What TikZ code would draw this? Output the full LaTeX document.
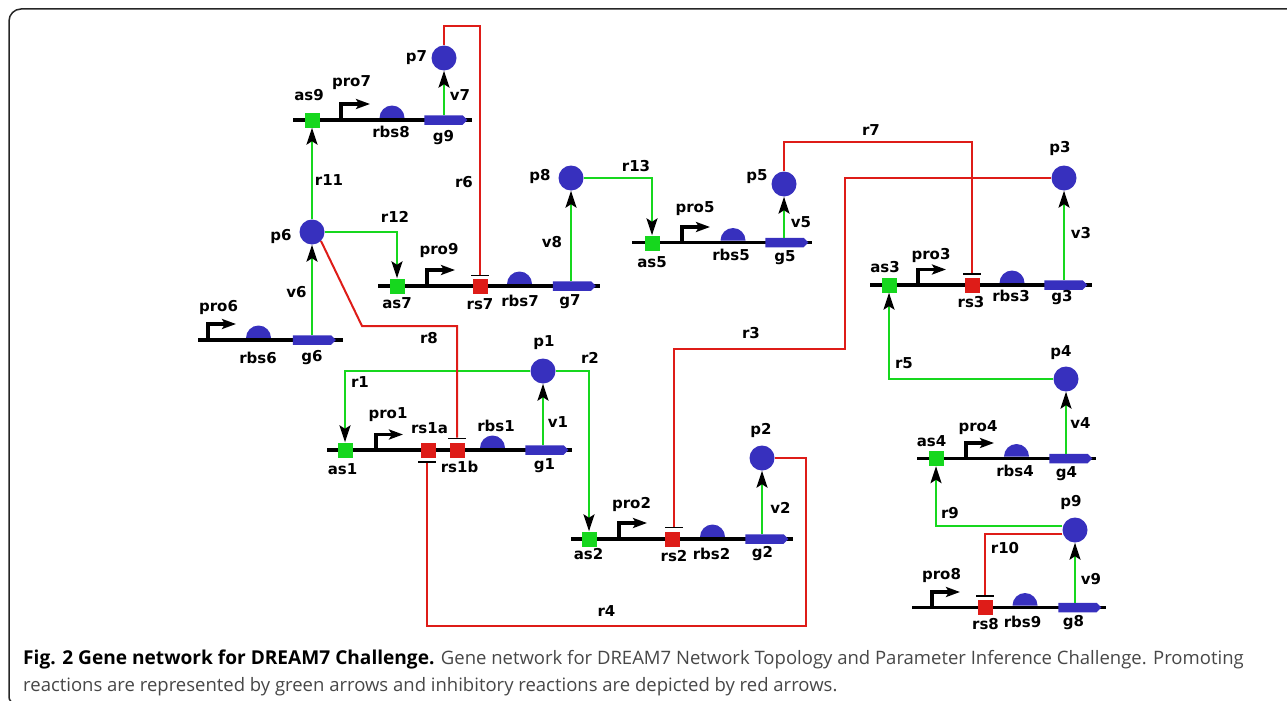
\documentclass[tikz,border=0pt]{standalone}
\usepackage{xcolor}
\usepackage{fontspec}
\setmainfont{DejaVu Sans}
\newfontfamily\capfont{Open Sans}
\usetikzlibrary{arrows.meta,shapes.geometric,shapes.symbols}
\definecolor{protblue}{HTML}{3730BE}
\definecolor{actgreen}{HTML}{16D71E}
\definecolor{repred}{HTML}{DE1C18}
\begin{document}
\begin{tikzpicture}[x=1pt,y=-1pt,
 dna/.style={draw=black,line width=3.3pt},
 prom/.style={draw=black,line width=3.6pt,-{Stealth[length=14pt,width=10pt,inset=3pt]}},
 prot/.style={circle,fill=protblue,inner sep=0pt,minimum size=25pt},
 site/.style={rectangle,inner sep=0pt,minimum size=15pt},
 asite/.style={site,fill=actgreen},
 rsite/.style={site,fill=repred},
 rbsite/.style={semicircle,fill=protblue,inner sep=0pt,minimum width=25pt,minimum height=12.5pt,anchor=chord center,yshift=1.8pt},
 gene/.style={signal,signal to=east,fill=protblue,inner sep=0pt,minimum width=43pt,minimum height=9.5pt},
 tbar/.style={rectangle,fill=black,inner sep=0pt,minimum width=18pt,minimum height=1.6pt},
 act/.style={draw=actgreen,line width=2pt,-{Stealth[black,length=17pt,width=11pt,inset=3.5pt]}},
 vel/.style={act},
 rep/.style={draw=repred,line width=2pt},
 lab/.style={font=\fontsize{15pt}{16pt}\selectfont\bfseries,inner sep=0pt}]
\useasboundingbox (0,0) rectangle (1287,701);
\draw[black!85,line width=1.5pt,rounded corners=12pt] (1300,9)--(9,9)[rounded corners=6pt]--(9,703)--(20,703);
% unit g9
\node[rbsite] (rbs8) at (392,120) {};
\coordinate (b9a) at (293,120); \coordinate (b9b) at (472,120);
\draw[dna] (b9a)--(b9b);
\coordinate (pr7) at (341,120); \coordinate (pr7t) at (370,104);
\draw[prom] (pr7)|-(pr7t);
\node[asite] (as9) at (312,120) {};
\node[gene] (g9) at (443.5,120) {};
\node[prot] (p7) at (444,58) {};
% unit g7
\node[rbsite] (rbs7) at (519.5,286) {};
\coordinate (b7a) at (378,286); \coordinate (b7b) at (600,286);
\draw[dna] (b7a)--(b7b);
\coordinate (pr9) at (427,286); \coordinate (pr9t) at (455,270);
\draw[prom] (pr9)|-(pr9t);
\node[asite] (as7) at (397,286) {};
\node[rsite] (rs7) at (480,286) {};
\node[tbar] (rs7b) at (480,275.5) {};
\node[gene] (g7) at (572,286) {};
\node[prot] (p8) at (571,178) {};
% unit g6
\node[rbsite] (rbs6) at (258.5,340) {};
\coordinate (b6a) at (198,340); \coordinate (b6b) at (343,340);
\draw[dna] (b6a)--(b6b);
\coordinate (pr6) at (208,340); \coordinate (pr6t) at (236,324);
\draw[prom] (pr6)|-(pr6t);
\node[gene] (g6) at (312,340) {};
\node[prot] (p6) at (312,232) {};
% unit g1
\node[rbsite] (rbs1) at (492.5,450) {};
\coordinate (b1a) at (327,450); \coordinate (b1b) at (572,450);
\draw[dna] (b1a)--(b1b);
\coordinate (pr1) at (376,450); \coordinate (pr1t) at (403,434.5);
\draw[prom] (pr1)|-(pr1t);
\node[asite] (as1) at (345,450) {};
\node[rsite] (rs1a) at (428,450) {};
\node[tbar] (rs1ab) at (427,462) {};
\node[rsite] (rs1b) at (457.5,450) {};
\node[tbar] (rs1bb) at (457,438.5) {};
\node[gene] (g1) at (544.5,450) {};
\node[prot] (p1) at (543,371) {};
% unit g2
\node[rbsite] (rbs2) at (712.5,539) {};
\coordinate (b2a) at (571,539); \coordinate (b2b) at (793,539);
\draw[dna] (b2a)--(b2b);
\coordinate (pr2) at (619,539); \coordinate (pr2t) at (647,523);
\draw[prom] (pr2)|-(pr2t);
\node[asite] (as2) at (589,539) {};
\node[rsite] (rs2) at (672.5,539) {};
\node[tbar] (rs2b) at (674,527.5) {};
\node[gene] (g2) at (764.5,539) {};
\node[prot] (p2) at (762,458) {};
% unit g5
\node[rbsite] (rbs5) at (733,242.5) {};
\coordinate (b5a) at (632,242.5); \coordinate (b5b) at (812,242.5);
\draw[dna] (b5a)--(b5b);
\coordinate (pr5) at (682,242.5); \coordinate (pr5t) at (710,227);
\draw[prom] (pr5)|-(pr5t);
\node[asite] (as5) at (652,243) {};
\node[gene] (g5) at (784.5,242.5) {};
\node[prot] (p5) at (784,184) {};
% unit g3
\node[rbsite] (rbs3) at (1012,285) {};
\coordinate (b3a) at (870,285); \coordinate (b3b) at (1092,285);
\draw[dna] (b3a)--(b3b);
\coordinate (pr3) at (918,285); \coordinate (pr3t) at (946,269.5);
\draw[prom] (pr3)|-(pr3t);
\node[asite] (as3) at (889,285) {};
\node[rsite] (rs3) at (972,285) {};
\node[tbar] (rs3b) at (972,274) {};
\node[gene] (g3) at (1063.5,285) {};
\node[prot] (p3) at (1064,178) {};
% unit g4
\node[rbsite] (rbs4) at (1016.5,458.5) {};
\coordinate (b4a) at (917,458.5); \coordinate (b4b) at (1096,458.5);
\draw[dna] (b4a)--(b4b);
\coordinate (pr4) at (966,458.5); \coordinate (pr4t) at (994,443);
\draw[prom] (pr4)|-(pr4t);
\node[asite] (as4) at (936,458.5) {};
\node[gene] (g4) at (1068.5,458.5) {};
\node[prot] (p4) at (1066,379) {};
% unit g8
\node[rbsite] (rbs9) at (1025,607.5) {};
\coordinate (b8a) at (912,607.5); \coordinate (b8b) at (1106,607.5);
\draw[dna] (b8a)--(b8b);
\coordinate (pr8) at (932,607.5); \coordinate (pr8t) at (960,592);
\draw[prom] (pr8)|-(pr8t);
\node[rsite] (rs8) at (985.5,607.5) {};
\node[tbar] (rs8b) at (985,596) {};
\node[gene] (g8) at (1077.5,607.5) {};
\node[prot] (p9) at (1075,530) {};
% translation
\draw[vel] (g9.north-|p7.south)--(p7.south);
\draw[vel] (g7.north-|p8.south)--(p8.south);
\draw[vel] (g6.north)--(p6.south);
\draw[vel] (g1.north-|p1.south)--(p1.south);
\draw[vel] (g2.north-|p2.south)--(p2.south);
\draw[vel] (g5.north-|p5.south)--(p5.south);
\draw[vel] (g3.north-|p3.south)--(p3.south);
\draw[vel] (g4.north-|p4.south)--(p4.south);
\draw[vel] (g8.north-|p9.south)--(p9.south);
% promoting reactions
\coordinate (r9c) at (936,526);
\draw[act] (p1.west)-|(as1.north);
\draw[act] (p1.east)-|(as2.north);
\draw[act] (p6.north)--(as9.south);
\draw[act] (p6.east)-|(as7.north);
\draw[act] (p8.east)-|(as5.north);
\draw[act] (p4.west)-|(as3.south);
\draw[act] (r9c-|p9.west)-|(as4.south);
% inhibitory reactions
\coordinate (r6c) at (480,26); \coordinate (r7c) at (972,142); \coordinate (r10c) at (985,534);
\coordinate (r8c) at (362,326); \coordinate (r3c) at (845,349); \coordinate (r4c) at (806,626);
\draw[rep] (p7.north)|-(r6c)--(rs7b.north);
\draw[rep] (p5.north)|-(r7c)--(rs3b.north);
\draw[rep] (p6.-45)--(r8c)-|(rs1bb.north);
\draw[rep] (rs2b.north)|-(r3c)|-(p3.west);
\draw[rep] (p2.east)-|(r4c)-|(rs1ab.south);
\draw[rep] (r10c-|p9.west)--(r10c)--(rs8b.north);
% labels
\node[lab] (tas9) at (309,95) {as9};
\node[lab] (tpro7) at (351.5,82.5) {pro7};
\node[lab] (trbs8) at (391,132) {rbs8};
\node[lab] (tg9) at (443.5,137.5) {g9};
\node[lab] (tp7) at (416.5,57.5) {p7};
\node[lab] (tv7) at (460,95) {v7};
\node[lab] (tr11) at (329,180) {r11};
\node[lab] (tr6) at (464,182.5) {r6};
\node[lab] (tp8) at (540,176) {p8};
\node[lab] (tr12) at (395,217) {r12};
\node[lab] (tpro9) at (439,250) {pro9};
\node[lab] (tas7) at (397,303) {as7};
\node[lab] (trs7) at (480,304.5) {rs7};
\node[lab] (trbs7) at (520,300.5) {rbs7};
\node[lab] (tg7) at (570,302) {g7};
\node[lab] (tv8) at (552,242.5) {v8};
\node[lab] (tp6) at (281,236.5) {p6};
\node[lab] (tv6) at (296.5,292.5) {v6};
\node[lab] (tpro6) at (218.5,307) {pro6};
\node[lab] (trbs6) at (258,358) {rbs6};
\node[lab] (tg6) at (312,358) {g6};
\node[lab] (tr8) at (429,338) {r8};
\node[lab] (tp1) at (544,343) {p1};
\node[lab] (tr2) at (590,358) {r2};
\node[lab] (tr1) at (360,382.5) {r1};
\node[lab] (tpro1) at (388,415) {pro1};
\node[lab] (trs1a) at (429.5,428) {rs1a};
\node[lab] (trbs1) at (496,426) {rbs1};
\node[lab] (tv1) at (558,422) {v1};
\node[lab] (tas1) at (342.5,469) {as1};
\node[lab] (trs1b) at (459.5,467) {rs1b};
\node[lab] (tg1) at (544.5,466) {g1};
\node[lab] (tp2) at (761,430) {p2};
\node[lab] (tpro2) at (631.5,504) {pro2};
\node[lab] (tv2) at (780.5,507.5) {v2};
\node[lab] (tas2) at (588.5,554.5) {as2};
\node[lab] (trs2) at (674,556.5) {rs2};
\node[lab] (trbs2) at (711.5,553.5) {rbs2};
\node[lab] (tg2) at (762.5,553.5) {g2};
\node[lab] (tr4) at (606.5,611.5) {r4};
\node[lab] (tr3) at (751,333) {r3};
\node[lab] (tr7) at (871,130) {r7};
\node[lab] (tr13) at (636,166) {r13};
\node[lab] (tpro5) at (695,209) {pro5};
\node[lab] (tas5) at (652,262) {as5};
\node[lab] (trbs5) at (731,255) {rbs5};
\node[lab] (tg5) at (785,258) {g5};
\node[lab] (tv5) at (801,222) {v5};
\node[lab] (tp5) at (757,177) {p5};
\node[lab] (tp3) at (1060,148) {p3};
\node[lab] (tv3) at (1081,233) {v3};
\node[lab] (tas3) at (885,267) {as3};
\node[lab] (tpro3) at (931,255) {pro3};
\node[lab] (trs3) at (971,302) {rs3};
\node[lab] (trbs3) at (1011,296) {rbs3};
\node[lab] (tg3) at (1062,298) {g3};
\node[lab] (tr5) at (904,363) {r5};
\node[lab] (tp4) at (1061,353) {p4};
\node[lab] (tpro4) at (978,427.5) {pro4};
\node[lab] (tas4) at (931.5,441.5) {as4};
\node[lab] (trbs4) at (1015,470.5) {rbs4};
\node[lab] (tg4) at (1066.5,474) {g4};
\node[lab] (tv4) at (1080.5,423) {v4};
\node[lab] (tr9) at (950,513) {r9};
\node[lab] (tp9) at (1071,502.5) {p9};
\node[lab] (tr10) at (1005,548) {r10};
\node[lab] (tpro8) at (941.5,575) {pro8};
\node[lab] (tv9) at (1091,579.5) {v9};
\node[lab] (trs8) at (985.5,624) {rs8};
\node[lab] (trbs9) at (1022.5,621.5) {rbs9};
\node[lab] (tg8) at (1073.5,623) {g8};
% caption
\node[anchor=north west,align=left,inner sep=0pt,text=black!72,font=\capfont\fontsize{18.5pt}{27pt}\selectfont] (cap) at (23,649.5) {{\fontsize{19.1pt}{27pt}\selectfont\bfseries\color{black}Fig. 2 Gene network for DREAM7 Challenge.} Gene network for DREAM7 Network Topology and Parameter Inference Challenge. Promoting\\reactions are represented by green arrows and inhibitory reactions are depicted by red arrows.};
\end{tikzpicture}
\end{document}
